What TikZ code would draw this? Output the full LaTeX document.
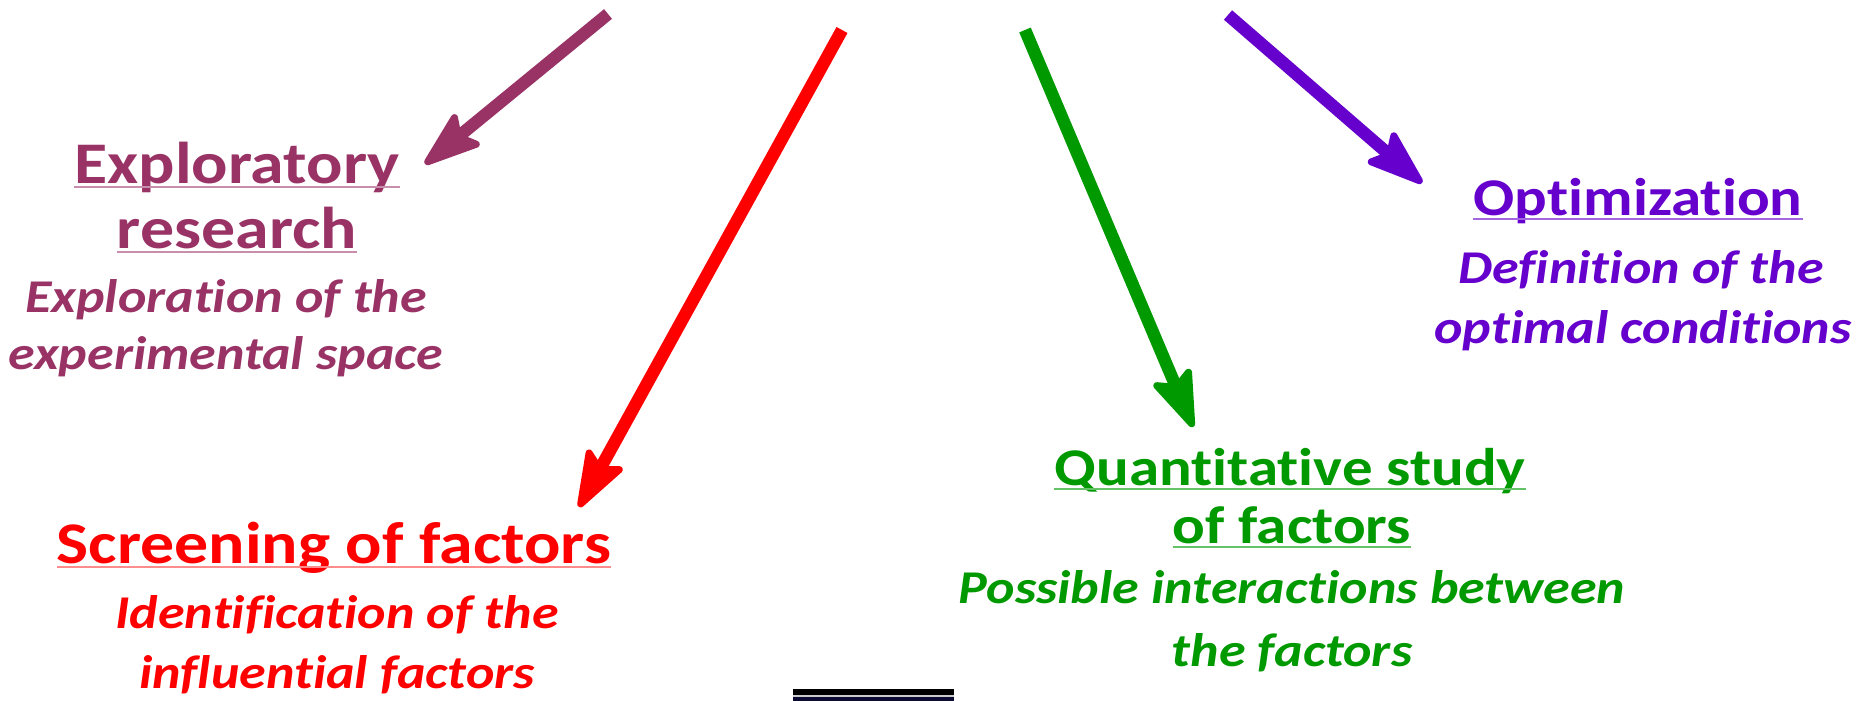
\documentclass[tikz,border=0pt]{standalone}
\usepackage{fontspec}
\setmainfont{Carlito}[FakeStretch=1.15,Ligatures=NoCommon]
\usetikzlibrary{arrows.meta}
\definecolor{plum}{HTML}{993366}
\definecolor{scrred}{HTML}{FF0000}
\definecolor{quantgreen}{HTML}{009900}
\definecolor{optviolet}{HTML}{6600CC}
\definecolor{barnavy}{HTML}{0B0B33}

\begin{document}
\begin{tikzpicture}[x=1pt,y=-1pt,
  head/.style={font=\fontsize{59}{65}\selectfont\bfseries,inner sep=0pt,anchor=base},
  smallhead/.style={head,font=\fontsize{53}{60}\selectfont\bfseries},
  sub/.style={font=\fontsize{47}{57}\selectfont\bfseries\itshape,inner sep=0pt,anchor=base},
  uline/.style={line width=1.6pt},
  flow/.style={line width=12.5pt,-{Stealth[length=66pt,width=46pt,inset=12pt,round,line width=7pt]}}]
\useasboundingbox (0,0) rectangle (1865,701);
% exploratory research
\node[head,text=plum] (expA) at (237,183) {Exploratory};
\node[head,text=plum] (expB) at (237,248) {research};
\draw[uline,plum!55] ([yshift=-4pt]expA.base west) -- ([yshift=-4pt]expA.base east);
\draw[uline,plum!55] ([yshift=-4pt]expB.base west) -- ([yshift=-4pt]expB.base east);
\node[sub,text=plum] (expC) at (226,312) {Exploration of the};
\node[sub,text=plum] (expD) at (226,369) {experimental space};
% screening
\node[head,text=scrred] (scrA) at (334,563) {Screening of factors};
\draw[uline,scrred!45] ([yshift=-4pt]scrA.base west) -- ([yshift=-4pt]scrA.base east);
\node[sub,text=scrred] (scrB) at (337,628) {Identification of the};
\node[sub,text=scrred] (scrC) at (337,688) {influential factors};
% quantitative study
\node[smallhead,text=quantgreen] (qntA) at (1290,485) {Quantitative study};
\node[smallhead,text=quantgreen] (qntB) at (1292,543) {of factors};
\draw[uline,quantgreen!60] ([yshift=-4pt]qntA.base west) -- ([yshift=-4pt]qntA.base east);
\draw[uline,quantgreen!60] ([yshift=-4pt]qntB.base west) -- ([yshift=-4pt]qntB.base east);
\node[sub,text=quantgreen] (qntC) at (1292,603) {Possible interactions between};
\node[sub,text=quantgreen] (qntD) at (1292,666) {the factors};
% optimization
\node[smallhead,text=optviolet] (optA) at (1638,215) {Optimization};
\draw[uline,optviolet!60] ([yshift=-4pt]optA.base west) -- ([yshift=-4pt]optA.base east);
\node[sub,text=optviolet] (optB) at (1641,283) {Definition of the};
\node[sub,text=optviolet] (optC) at (1643,343) {optimal conditions};
% arrows
\coordinate (expS) at (608,14);   \coordinate (expT) at (425,164);
\coordinate (scrS) at (842,30);   \coordinate (scrT) at (579,507);
\coordinate (qntS) at (1025,30);  \coordinate (qntT) at (1193,427);
\coordinate (optS) at (1228,15);  \coordinate (optT) at (1422,183);
\draw[flow,plum] (expS) -- (expT);
\draw[flow,scrred] (scrS) -- (scrT);
\draw[flow,quantgreen] (qntS) -- (qntT);
\draw[flow,optviolet] (optS) -- (optT);
% bar at the bottom
\fill[black] (793,689) rectangle (954,695);
\fill[gray!40] (793,695) rectangle (954,697);
\fill[barnavy] (793,697) rectangle (954,701);
\end{tikzpicture}
\end{document}
